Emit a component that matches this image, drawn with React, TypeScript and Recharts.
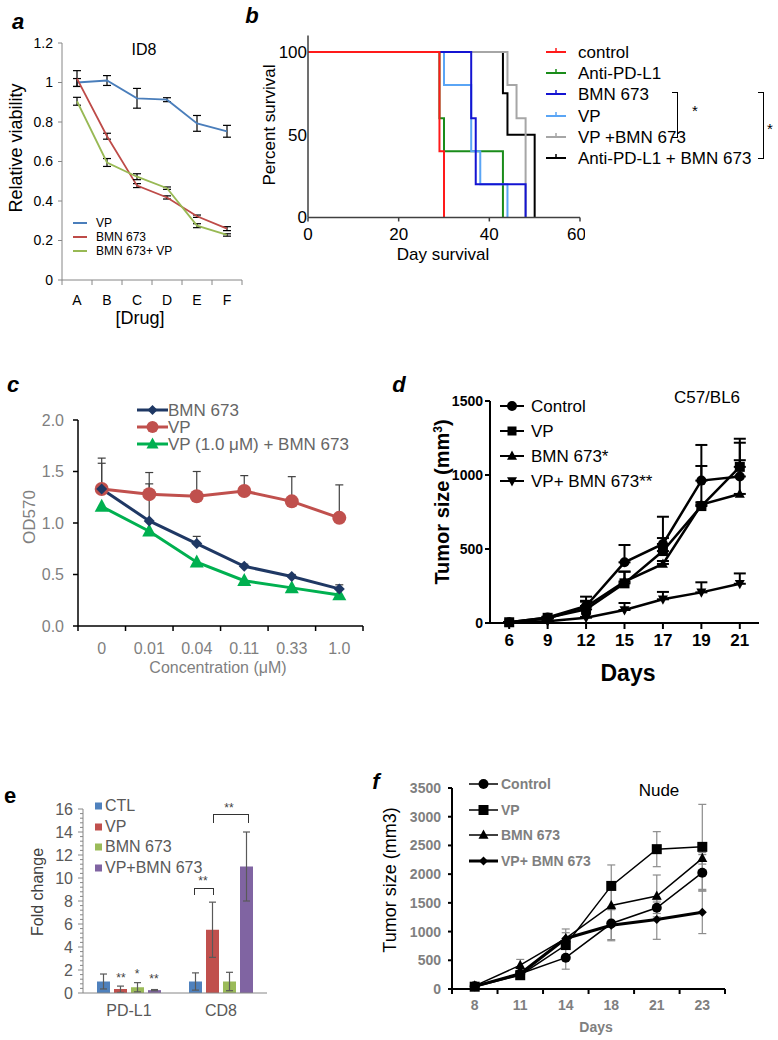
import React from "react";
import { LineChart, Line, BarChart, Bar, XAxis, YAxis, ErrorBar } from "recharts";

const SANS = "'Liberation Sans', Arial, sans-serif";
const NARROW = "'Liberation Sans Narrow', 'Liberation Sans', Arial, sans-serif";

// ---- a: ID8 relative viability
const drugLevels = ["A", "B", "C", "D", "E", "F"];
const vpViability = [1.0, 1.01, 0.92, 0.913, 0.793, 0.753];
const vpViabilityErr = [0.02, 0.025, 0.05, 0.01, 0.04, 0.03];
const bmnViability = [1.02, 0.728, 0.478, 0.418, 0.323, 0.26];
const bmnViabilityErr = [0.04, 0.015, 0.01, 0.008, 0.006, 0.01];
const comboViability = [0.905, 0.595, 0.523, 0.465, 0.275, 0.228];
const comboViabilityErr = [0.02, 0.02, 0.015, 0.006, 0.01, 0.006];
const viabilityTicks = [0, 0.2, 0.4, 0.6, 0.8, 1.0, 1.2];

// ---- b: survival (day of each drop, percent surviving)
const ctrlDays = [0, 29, 30];
const ctrlPct = [100, 40, 0];
const pdl1Days = [0, 29, 30, 43];
const pdl1Pct = [100, 60, 40, 0];
const bmnDays = [0, 36, 37, 48];
const bmnPct = [100, 60, 20, 0];
const vpDays = [0, 30, 36, 38, 44];
const vpPct = [100, 80, 40, 20, 0];
const vpBmnDays = [0, 44, 46, 48];
const vpBmnPct = [100, 80, 60, 0];
const pdl1BmnDays = [0, 43, 44, 50];
const pdl1BmnPct = [100, 75, 50, 0];

// ---- c: OD570 vs concentration
const concLabels = ["0", "0.01", "0.04", "0.11", "0.33", "1.0"];
const odBmn = [1.33, 1.02, 0.8, 0.58, 0.48, 0.36];
const odBmnErr = [0.25, 0.36, 0.07, 0.02, 0.02, 0.04];
const odVp = [1.33, 1.28, 1.26, 1.31, 1.21, 1.05];
const odVpErr = [0.3, 0.21, 0.24, 0.15, 0.24, 0.32];
const odCombo = [1.16, 0.92, 0.62, 0.44, 0.37, 0.3];

// ---- d: C57/BL6 tumor size
const c57Days = ["6", "9", "12", "15", "17", "19", "21"];
const c57Control = [5, 38, 115, 410, 534, 962, 990];
const c57ControlErr = [0, 5, 63, 117, 184, 241, 228];
const c57Vp = [5, 35, 92, 268, 486, 790, 1055];
const c57VpErr = [0, 5, 52, 79, 88, 271, 190];
const c57Bmn = [3, 30, 110, 280, 399, 800, 872];
const c57BmnErr = [0, 5, 40, 67, 20, 15, 228];
const c57Combo = [0, 12, 36, 88, 160, 207, 265];
const c57ComboErr = [0, 3, 5, 47, 50, 68, 70];

// ---- e: fold change
const targets = ["PD-L1", "CD8"];
const foldCtl = [1.0, 1.0];
const foldCtlErr = [0.65, 0.75];
const foldVp = [0.35, 5.5];
const foldVpErr: (number | number[])[] = [[0.3, 0.25], 2.4];
const foldBmn = [0.5, 1.0];
const foldBmnErr = [0.4, 0.8];
const foldCombo = [0.25, 11];
const foldComboErr = [0.05, 3];
const foldTicks = Array.from({ length: 41 }, (_, i) => Math.round(i * 4) / 10);

// ---- f: nude tumor size
const nudeDays = ["8", "11", "14", "18", "21", "23"];
const nudeControl = [50, 265, 545, 1140, 1415, 2025];
const nudeControlErr = [10, 60, 200, 280, 100, 315];
const nudeVp = [40, 240, 765, 1795, 2435, 2475];
const nudeVpErr = [10, 50, 60, 365, 305, 740];
const nudeBmn = [55, 415, 880, 1455, 1620, 2275];
const nudeBmnErr = [10, 100, 165, 300, 365, 100];
const nudeCombo = [45, 265, 880, 1110, 1210, 1335];
const nudeComboErr = [10, 50, 100, 270, 345, 370];

type Shape = "circle" | "square" | "triangle" | "down" | "diamond";

function Marker({ shape, cx, cy, size, fill }: { shape: Shape; cx: number; cy: number; size: number; fill: string }) {
  const h = size / 2;
  if (shape === "circle") return <circle cx={cx} cy={cy} r={h} fill={fill} />;
  if (shape === "square") return <rect x={cx - h} y={cy - h} width={size} height={size} fill={fill} />;
  if (shape === "triangle")
    return <polygon points={`${cx},${cy - h * 1.1} ${cx - h},${cy + h * 0.75} ${cx + h},${cy + h * 0.75}`} fill={fill} />;
  if (shape === "down")
    return <polygon points={`${cx},${cy + h * 1.1} ${cx - h},${cy - h * 0.75} ${cx + h},${cy - h * 0.75}`} fill={fill} />;
  return <polygon points={`${cx},${cy - h} ${cx + h},${cy} ${cx},${cy + h} ${cx - h},${cy}`} fill={fill} />;
}

const dotOf = (shape: Shape, size: number, fill: string) => (p: any) =>
  p.cx == null || p.cy == null ? (
    <g key={`d${p.index}`} />
  ) : (
    <Marker key={`d${p.index}`} shape={shape} cx={p.cx} cy={p.cy} size={size} fill={fill} />
  );

// category labels with tick marks on the band edges (Excel style)
const edgeTick = (o: { half: number; last: number; len: number; stroke: string; sw: number; dy: number; size: number; fill: string; family: string; weight?: number }) =>
  (p: any) => (
    <g>
      <line x1={p.x - o.half} x2={p.x - o.half} y1={p.y} y2={p.y + o.len} stroke={o.stroke} strokeWidth={o.sw} />
      {p.index === o.last && <line x1={p.x + o.half} x2={p.x + o.half} y1={p.y} y2={p.y + o.len} stroke={o.stroke} strokeWidth={o.sw} />}
      <text x={p.x} y={p.y + o.dy} textAnchor="middle" dominantBaseline="central" fontSize={o.size} fill={o.fill} fontFamily={o.family} fontWeight={o.weight || 400}>
        {p.payload.value}
      </text>
    </g>
  );

const foldTick = (p: any) => {
  const v = p.payload.value;
  const r = Math.round(v);
  const major = Math.abs(v - r) < 1e-6 && r % 2 === 0;
  return (
    <g>
      <line x1={p.x - (major ? 5 : 3)} x2={p.x} y1={p.y} y2={p.y} stroke="#868686" />
      {major && (
        <text x={p.x - 10} y={p.y} textAnchor="end" dominantBaseline="central" fontSize={16} fill="#595959" fontFamily={SANS}>
          {r}
        </text>
      )}
    </g>
  );
};

function Txt({ x, y, size, children, color = "#000", weight = 400, italic = false, family = SANS, anchor = "middle", rotate = false, lh = 1 }: any) {
  const tx = anchor === "middle" ? "-50%" : anchor === "end" ? "-100%" : "0";
  return (
    <div
      style={{
        position: "absolute",
        left: x,
        top: y,
        transform: `translate(${tx}, -50%)${rotate ? " rotate(-90deg)" : ""}`,
        fontSize: size,
        color,
        fontWeight: weight,
        fontStyle: italic ? "italic" : "normal",
        fontFamily: family,
        whiteSpace: "nowrap",
        lineHeight: lh,
      }}
    >
      {children}
    </div>
  );
}

type LegItem = { name: React.ReactNode; color: string; shape?: Shape; size?: number; sw?: number; tick?: boolean; box?: boolean };

function Legend({ x, y, step, w, textX, items, size, color = "#000", weight = 400, lh = 1 }: { x: number; y: number; step: number; w: number; textX: number; items: LegItem[]; size: number; color?: string; weight?: number; lh?: number }) {
  return (
    <>
      {items.map((it, i) => {
        const cy = y + i * step;
        return (
          <React.Fragment key={i}>
            <svg width={w} height={16} style={{ position: "absolute", left: x, top: cy - 8 }}>
              {it.box ? (
                <rect x={0} y={4.5} width={w} height={w} fill={it.color} />
              ) : (
                <>
                  <line x1={0} x2={w} y1={8} y2={8} stroke={it.color} strokeWidth={it.sw || 2} />
                  {it.tick && <line x1={w / 2} x2={w / 2} y1={4} y2={8} stroke={it.color} strokeWidth={1.5} />}
                  {it.shape && <Marker shape={it.shape} cx={w / 2} cy={8} size={it.size || 9} fill={it.color} />}
                </>
              )}
            </svg>
            <Txt x={textX} y={cy} size={size} color={color} weight={weight} anchor="start" lh={lh}>
              {it.name}
            </Txt>
          </React.Fragment>
        );
      })}
    </>
  );
}

function PanelA() {
  const rows = drugLevels.map((drug, i) => ({
    drug,
    vp: vpViability[i],
    vpErr: vpViabilityErr[i],
    bmn: bmnViability[i],
    bmnErr: bmnViabilityErr[i],
    combo: comboViability[i],
    comboErr: comboViabilityErr[i],
  }));
  const eb = { width: 4, stroke: "#000", strokeWidth: 1.2, direction: "y" as const };
  return (
    <div style={{ position: "absolute", left: 0, top: 0 }}>
      <LineChart width={260} height={330} data={rows} margin={{ top: 43, right: 18, bottom: 0, left: 0 }}>
        <XAxis
          dataKey="drug"
          height={50}
          padding={{ left: 15, right: 15 }}
          interval={0}
          axisLine={{ stroke: "#868686" }}
          tickLine={false}
          tickSize={0}
          tickMargin={0}
          tick={edgeTick({ half: 15, last: 5, len: 5, stroke: "#868686", sw: 1, dy: 20, size: 14, fill: "#000", family: SANS })}
        />
        <YAxis
          width={62}
          domain={[0, 1.2]}
          ticks={viabilityTicks}
          interval={0}
          tickFormatter={(v: number) => String(Math.round(v * 10) / 10)}
          axisLine={{ stroke: "#868686" }}
          tickLine={{ stroke: "#868686" }}
          tickSize={4}
          tickMargin={5}
          tick={{ fill: "#000", fontSize: 14, fontFamily: SANS }}
        />
        <Line dataKey="vp" stroke="#4a7ebb" strokeWidth={1.8} dot={false} isAnimationActive={false}>
          <ErrorBar dataKey="vpErr" {...eb} />
        </Line>
        <Line dataKey="bmn" stroke="#be4b48" strokeWidth={1.8} dot={false} isAnimationActive={false}>
          <ErrorBar dataKey="bmnErr" {...eb} />
        </Line>
        <Line dataKey="combo" stroke="#98b954" strokeWidth={1.8} dot={false} isAnimationActive={false}>
          <ErrorBar dataKey="comboErr" {...eb} />
        </Line>
      </LineChart>
      <Txt x={144} y={50} size={16}>ID8</Txt>
      <Txt x={16} y={148} size={18} rotate>Relative viability</Txt>
      <Txt x={140} y={318} size={18}>[Drug]</Txt>
      <Legend
        x={73}
        y={223}
        step={14}
        w={14}
        textX={96}
        size={12}
        lh={1}
        items={[
          { name: "VP", color: "#4a7ebb" },
          { name: "BMN 673", color: "#be4b48" },
          { name: "BMN 673+ VP", color: "#98b954" },
        ]}
      />
    </div>
  );
}

function PanelB() {
  const mk = (d: number[], p: number[]) => d.map((day, i) => ({ day, pct: p[i] }));
  const series = [
    { data: mk(pdl1BmnDays, pdl1BmnPct), color: "#000000" },
    { data: mk(vpBmnDays, vpBmnPct), color: "#a6a6a6" },
    { data: mk(pdl1Days, pdl1Pct), color: "#1a8c1a" },
    { data: mk(vpDays, vpPct), color: "#5aa5f5" },
    { data: mk(bmnDays, bmnPct), color: "#1414d2" },
    { data: mk(ctrlDays, ctrlPct), color: "#ff1a1a" },
  ];
  const axis = { stroke: "#404040", strokeWidth: 1.5 };
  return (
    <div style={{ position: "absolute", left: 240, top: 0 }}>
      <LineChart width={345} height={265} margin={{ top: 35.455, right: 5, bottom: 0, left: 18 }}>
        <XAxis
          type="number"
          dataKey="day"
          domain={[0, 60]}
          ticks={[0, 20, 40, 60]}
          height={47.545}
          axisLine={axis}
          tickLine={axis}
          tickSize={4}
          tickMargin={6}
          tick={{ fill: "#000", fontSize: 17, fontFamily: SANS }}
        />
        <YAxis
          type="number"
          domain={[0, 110]}
          ticks={[0, 50, 100]}
          width={50}
          axisLine={axis}
          tickLine={false}
          tickSize={0}
          tickMargin={1}
          tick={{ fill: "#000", fontSize: 17, fontFamily: SANS }}
        />
        {series.map((s, i) => (
          <Line key={i} data={s.data} dataKey="pct" type="stepAfter" stroke={s.color} strokeWidth={2} dot={false} isAnimationActive={false} />
        ))}
      </LineChart>
    </div>
  );
}

function PanelBText() {
  const bracket = (l: number, t: number, h: number) => (
    <div style={{ position: "absolute", left: l, top: t, width: 5, height: h, borderTop: "1px solid #000", borderRight: "1px solid #000", borderBottom: "1px solid #000" }} />
  );
  return (
    <>
      <Txt x={269} y={125} size={17} rotate>Percent survival</Txt>
      <Txt x={443} y={254} size={17}>Day survival</Txt>
      <Legend
        x={546}
        y={52}
        step={21.2}
        w={20}
        textX={578}
        size={17}
        items={[
          { name: "control", color: "#ff1a1a", tick: true },
          { name: "Anti-PD-L1", color: "#1a8c1a", tick: true },
          { name: "BMN 673", color: "#1414d2", tick: true },
          { name: "VP", color: "#5aa5f5", tick: true },
          { name: "VP +BMN 673", color: "#a6a6a6", tick: true },
          { name: "Anti-PD-L1 + BMN 673", color: "#000", tick: true },
        ]}
      />
      {bracket(672, 92, 44)}
      <Txt x={695} y={110} size={15}>*</Txt>
      {bracket(758, 92, 65)}
      <Txt x={770} y={128} size={15}>*</Txt>
    </>
  );
}

function PanelC() {
  const rows = concLabels.map((conc, i) => ({
    conc,
    bmn: odBmn[i],
    bmnErr: [0, odBmnErr[i]],
    vp: odVp[i],
    vpErr: [0, odVpErr[i]],
    combo: odCombo[i],
  }));
  const eb = { width: 4, stroke: "#404040", strokeWidth: 1.2, direction: "y" as const };
  return (
    <div style={{ position: "absolute", left: 0, top: 330 }}>
      <LineChart width={400} height={350} data={rows} margin={{ top: 90, right: 37, bottom: 0, left: 0 }}>
        <XAxis
          dataKey="conc"
          height={54}
          padding={{ left: 23.7, right: 23.7 }}
          interval={0}
          axisLine={{ stroke: "#000", strokeWidth: 1.5 }}
          tickLine={false}
          tickSize={0}
          tickMargin={0}
          tick={edgeTick({ half: 23.7, last: 5, len: 5, stroke: "#000", sw: 1.5, dy: 22, size: 16, fill: "#7f7f7f", family: SANS })}
        />
        <YAxis
          width={78}
          domain={[0, 2]}
          ticks={[0, 0.5, 1, 1.5, 2]}
          interval={0}
          tickFormatter={(v: number) => v.toFixed(1)}
          axisLine={{ stroke: "#000", strokeWidth: 1.5 }}
          tickLine={{ stroke: "#000", strokeWidth: 1.5 }}
          tickSize={5}
          tickMargin={9}
          tick={{ fill: "#7f7f7f", fontSize: 16, fontFamily: SANS }}
        />
        <Line dataKey="vp" stroke="#c0504d" strokeWidth={3} dot={dotOf("circle", 14, "#c0504d")} isAnimationActive={false}>
          <ErrorBar dataKey="vpErr" {...eb} />
        </Line>
        <Line dataKey="combo" stroke="#00b050" strokeWidth={3} dot={dotOf("triangle", 14, "#00b050")} isAnimationActive={false} />
        <Line dataKey="bmn" stroke="#1f3864" strokeWidth={3} dot={dotOf("diamond", 11, "#1f3864")} isAnimationActive={false}>
          <ErrorBar dataKey="bmnErr" {...eb} />
        </Line>
      </LineChart>
      <Txt x={29} y={187} size={17} color="#7f7f7f" rotate>OD570</Txt>
      <Txt x={218} y={338} size={16} color="#7f7f7f">Concentration (μM)</Txt>
      <Legend
        x={137}
        y={80}
        step={17}
        w={31}
        textX={168}
        size={17}
        color="#666"
        items={[
          { name: "BMN 673", color: "#1f3864", shape: "diamond", size: 10, sw: 3 },
          { name: "VP", color: "#c0504d", shape: "circle", size: 12, sw: 3 },
          { name: "VP (1.0 μM) + BMN 673", color: "#00b050", shape: "triangle", size: 12, sw: 3 },
        ]}
      />
    </div>
  );
}

function PanelD() {
  const rows = c57Days.map((day, i) => ({
    day,
    control: c57Control[i],
    controlErr: [0, c57ControlErr[i]],
    vp: c57Vp[i],
    vpErr: [0, c57VpErr[i]],
    bmn: c57Bmn[i],
    bmnErr: [0, c57BmnErr[i]],
    combo: c57Combo[i],
    comboErr: [0, c57ComboErr[i]],
  }));
  const eb = { width: 6, stroke: "#000", strokeWidth: 2, direction: "y" as const };
  const axis = { stroke: "#000", strokeWidth: 2 };
  return (
    <div style={{ position: "absolute", left: 400, top: 330 }}>
      <LineChart width={378} height={360} data={rows} margin={{ top: 71, right: 19, bottom: 0, left: 0 }}>
        <XAxis
          dataKey="day"
          height={67}
          padding={{ left: 19.2, right: 19.2 }}
          interval={0}
          axisLine={axis}
          tickLine={axis}
          tickSize={6}
          tickMargin={5}
          tick={{ fill: "#000", fontSize: 17, fontFamily: NARROW, fontWeight: 700 }}
        />
        <YAxis
          width={90}
          domain={[0, 1500]}
          ticks={[0, 500, 1000, 1500]}
          interval={0}
          axisLine={axis}
          tickLine={axis}
          tickSize={5}
          tickMargin={2}
          tick={{ fill: "#000", fontSize: 14, fontFamily: NARROW, fontWeight: 700 }}
        />
        <Line dataKey="control" stroke="#000" strokeWidth={2.5} dot={dotOf("circle", 10, "#000")} isAnimationActive={false}>
          <ErrorBar dataKey="controlErr" {...eb} />
        </Line>
        <Line dataKey="vp" stroke="#000" strokeWidth={2.5} dot={dotOf("square", 10, "#000")} isAnimationActive={false}>
          <ErrorBar dataKey="vpErr" {...eb} />
        </Line>
        <Line dataKey="bmn" stroke="#000" strokeWidth={2.5} dot={dotOf("triangle", 10, "#000")} isAnimationActive={false}>
          <ErrorBar dataKey="bmnErr" {...eb} />
        </Line>
        <Line dataKey="combo" stroke="#000" strokeWidth={2.5} dot={dotOf("down", 10, "#000")} isAnimationActive={false}>
          <ErrorBar dataKey="comboErr" {...eb} />
        </Line>
      </LineChart>
      <Txt x={42} y={172} size={20} weight={700} family={NARROW} rotate>
        Tumor size (mm<sup style={{ fontSize: 12 }}>3</sup>)
      </Txt>
      <Txt x={228} y={343} size={23} weight={700} family={NARROW}>Days</Txt>
      <Txt x={307} y={67} size={17}>C57/BL6</Txt>
      <Legend
        x={100}
        y={76}
        step={25}
        w={24}
        textX={131}
        size={17}
        items={[
          { name: "Control", color: "#000", shape: "circle", size: 10, sw: 2 },
          { name: "VP", color: "#000", shape: "square", size: 9, sw: 2 },
          { name: "BMN 673*", color: "#000", shape: "triangle", size: 10, sw: 2 },
          { name: "VP+ BMN 673**", color: "#000", shape: "down", size: 10, sw: 2 },
        ]}
      />
    </div>
  );
}

function PanelE() {
  const rows = targets.map((target, i) => ({
    target,
    ctl: foldCtl[i],
    ctlErr: foldCtlErr[i],
    vp: foldVp[i],
    vpErr: foldVpErr[i],
    bmn: foldBmn[i],
    bmnErr: foldBmnErr[i],
    combo: foldCombo[i],
    comboErr: foldComboErr[i],
  }));
  const eb = { width: 3.5, stroke: "#595959", strokeWidth: 1.2, direction: "y" as const };
  const br = (l: number, t: number, w: number, h: number) => (
    <div style={{ position: "absolute", left: l, top: t, width: w, height: h, borderTop: "1.3px solid #333", borderLeft: "1.3px solid #333", borderRight: "1.3px solid #333" }} />
  );
  return (
    <div style={{ position: "absolute", left: 0, top: 680 }}>
      <BarChart width={380} height={360} data={rows} margin={{ top: 129, right: 113, bottom: 0, left: 0 }} barCategoryGap={14} barGap={4}>
        <XAxis
          dataKey="target"
          height={47}
          axisLine={{ stroke: "#868686" }}
          tickLine={false}
          tickSize={0}
          tickMargin={12}
          tick={{ fill: "#595959", fontSize: 16, fontFamily: SANS }}
        />
        <YAxis
          width={83}
          domain={[0, 16]}
          ticks={foldTicks}
          interval={0}
          axisLine={{ stroke: "#868686" }}
          tickLine={false}
          tickSize={0}
          tickMargin={0}
          tick={foldTick}
        />
        <Bar dataKey="ctl" fill="#4f81bd" barSize={13} isAnimationActive={false}>
          <ErrorBar dataKey="ctlErr" {...eb} />
        </Bar>
        <Bar dataKey="vp" fill="#c0504d" barSize={13} isAnimationActive={false}>
          <ErrorBar dataKey="vpErr" {...eb} />
        </Bar>
        <Bar dataKey="bmn" fill="#9bbb59" barSize={13} isAnimationActive={false}>
          <ErrorBar dataKey="bmnErr" {...eb} />
        </Bar>
        <Bar dataKey="combo" fill="#8064a2" barSize={13} isAnimationActive={false}>
          <ErrorBar dataKey="comboErr" {...eb} />
        </Bar>
      </BarChart>
      <Txt x={38} y={212} size={16} color="#404040" rotate>Fold change</Txt>
      <Legend
        x={95}
        y={126}
        step={20.5}
        w={7}
        textX={105}
        size={16}
        color="#595959"
        items={[
          { name: "CTL", color: "#4f81bd", box: true },
          { name: "VP", color: "#c0504d", box: true },
          { name: "BMN 673", color: "#9bbb59", box: true },
          { name: "VP+BMN 673", color: "#8064a2", box: true },
        ]}
      />
      <Txt x={121} y={298} size={12} color="#404040">**</Txt>
      <Txt x={137} y={294} size={12} color="#404040">*</Txt>
      <Txt x={154} y={299} size={12} color="#404040">**</Txt>
      {br(194, 208, 18, 6)}
      <Txt x={203} y={201} size={12} color="#404040">**</Txt>
      {br(213, 134, 34, 8)}
      <Txt x={229} y={128} size={12} color="#404040">**</Txt>
    </div>
  );
}

function PanelF() {
  const rows = nudeDays.map((day, i) => ({
    day,
    control: nudeControl[i],
    controlErr: nudeControlErr[i],
    vp: nudeVp[i],
    vpErr: nudeVpErr[i],
    bmn: nudeBmn[i],
    bmnErr: nudeBmnErr[i],
    combo: nudeCombo[i],
    comboErr: nudeComboErr[i],
  }));
  const eb = { width: 4, stroke: "#8c8c8c", strokeWidth: 1.2, direction: "y" as const };
  const axis = { stroke: "#000", strokeWidth: 2 };
  return (
    <div style={{ position: "absolute", left: 380, top: 680 }}>
      <LineChart width={398} height={360} data={rows} margin={{ top: 108, right: 53, bottom: 0, left: 0 }}>
        <XAxis
          dataKey="day"
          height={51}
          padding={{ left: 22.7, right: 22.7 }}
          interval={0}
          axisLine={axis}
          tickLine={false}
          tickSize={0}
          tickMargin={0}
          tick={edgeTick({ half: 22.7, last: 5, len: 5, stroke: "#000", sw: 2, dy: 16, size: 14, fill: "#7f7f7f", family: SANS, weight: 700 })}
        />
        <YAxis
          width={72}
          domain={[0, 3500]}
          ticks={[0, 500, 1000, 1500, 2000, 2500, 3000, 3500]}
          interval={0}
          axisLine={axis}
          tickLine={axis}
          tickSize={4}
          tickMargin={7}
          tick={{ fill: "#7f7f7f", fontSize: 14, fontFamily: SANS, fontWeight: 700 }}
        />
        <Line dataKey="control" stroke="#000" strokeWidth={1.5} dot={dotOf("circle", 10, "#000")} isAnimationActive={false}>
          <ErrorBar dataKey="controlErr" {...eb} />
        </Line>
        <Line dataKey="vp" stroke="#000" strokeWidth={1.5} dot={dotOf("square", 10, "#000")} isAnimationActive={false}>
          <ErrorBar dataKey="vpErr" {...eb} />
        </Line>
        <Line dataKey="bmn" stroke="#000" strokeWidth={1.5} dot={dotOf("triangle", 10, "#000")} isAnimationActive={false}>
          <ErrorBar dataKey="bmnErr" {...eb} />
        </Line>
        <Line dataKey="combo" stroke="#000" strokeWidth={3} dot={dotOf("diamond", 9, "#000")} isAnimationActive={false}>
          <ErrorBar dataKey="comboErr" {...eb} />
        </Line>
      </LineChart>
      <Txt x={10} y={200} size={18} rotate>Tumor size (mm3)</Txt>
      <Txt x={216} y={347} size={14} weight={700} color="#7f7f7f">Days</Txt>
      <Txt x={279} y={110} size={17}>Nude</Txt>
      <Legend
        x={89}
        y={104}
        step={25.6}
        w={29}
        textX={121}
        size={14}
        weight={700}
        color="#7f7f7f"
        items={[
          { name: "Control", color: "#000", shape: "circle", size: 10, sw: 1.5 },
          { name: "VP", color: "#000", shape: "square", size: 10, sw: 1.5 },
          { name: "BMN 673", color: "#000", shape: "triangle", size: 10, sw: 1.5 },
          { name: "VP+ BMN 673", color: "#000", shape: "diamond", size: 9, sw: 3 },
        ]}
      />
    </div>
  );
}

export default function App() {
  return (
    <div style={{ position: "absolute", left: 0, top: 0, width: 778, height: 1040, background: "#fff", fontFamily: SANS, overflow: "hidden" }}>
      <PanelA />
      <PanelB />
      <PanelBText />
      <PanelC />
      <PanelD />
      <PanelE />
      <PanelF />
      <Txt x={18} y={22} size={22} weight={700} italic>a</Txt>
      <Txt x={252} y={16} size={22} weight={700} italic>b</Txt>
      <Txt x={13} y={385} size={22} weight={700} italic>c</Txt>
      <Txt x={399} y={385} size={22} weight={700} italic>d</Txt>
      <Txt x={10} y={796} size={22} weight={700}>e</Txt>
      <Txt x={376} y={782} size={22} weight={700} italic>f</Txt>
    </div>
  );
}
